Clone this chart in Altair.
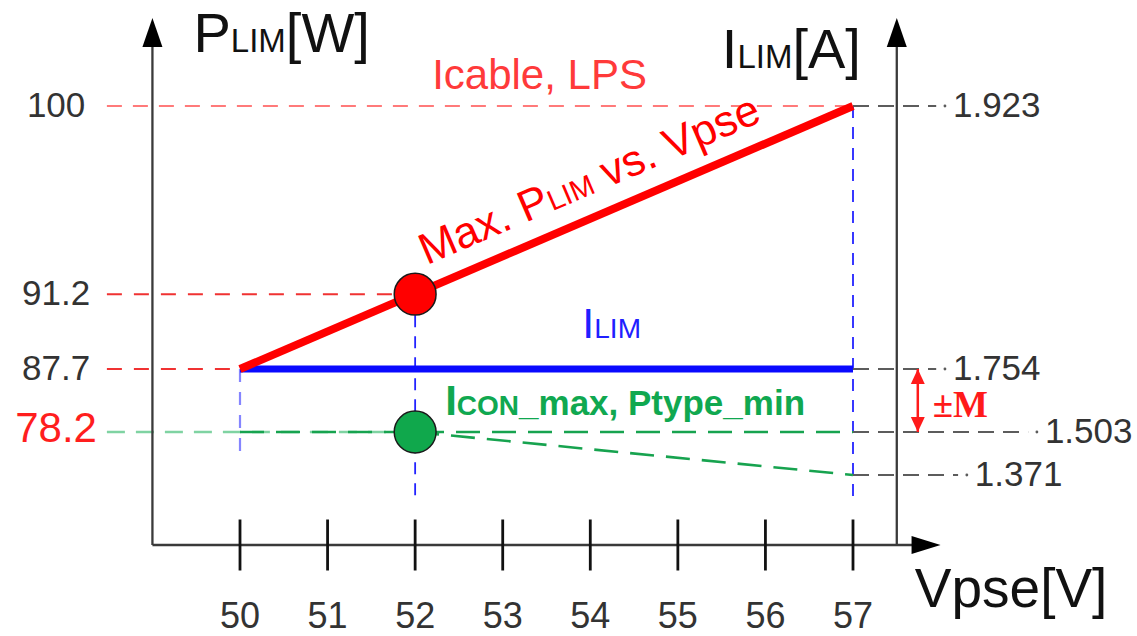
import math
import altair as alt
import pandas as pd

# ---------------- values ----------------
VPSE_TICKS = [50, 51, 52, 53, 54, 55, 56, 57]
P_LABELS = [100, 91.2, 87.7]            # left axis labels (grey)
P_LABEL_RED = 78.2                       # left axis label (red)
I_LABELS = [1.923, 1.754, 1.503, 1.371]  # right axis labels

PMAX_V = [50, 57]             # Max. PLIM vs. Vpse
PMAX_P = [87.7, 100]
ILIM_V = [50, 57]             # ILIM
ILIM_P = 87.7
ICON_V = [50, 57]             # ICON_max, Ptype_min
ICON_P = 78.2
ICON_DROP_V = [52, 57]
ICON_DROP_I = [1.503, 1.371]
P_CABLE = 100                 # Icable, LPS
OP_V = 52
OP_P_RED = 91.2
OP_P_GREEN = 78.2
M_BAND_I = [1.754, 1.503]     # ±M band

# ---------------- layout ----------------
W, H = 1137, 636
X_RANGE = [240, 853]
XS = alt.Scale(domain=[50, 57], range=X_RANGE, nice=False, zero=False)
P_BOT, P_TOP = 61.0, 104.0
P_PIX = [545, 432, 369, 106, 18]
PS = alt.Scale(domain=[P_BOT, 78.2, 87.7, 100, P_TOP], range=P_PIX, nice=False, zero=False)
I_BOT, I_TOP = 1.2, 2.0
IS = alt.Scale(domain=[I_BOT, 1.371, 1.503, 1.754, 1.923, I_TOP],
               range=[545, 475, 432, 369, 106, 18], nice=False, zero=False)
V_AXIS_L, V_AXIS_R, V_ARROW = 49.0, 57.5, 58.0
V_GUIDE0 = 48.48
V_LABEL_L = 47.9
LEADER_END = [58.05, 58.05, 59.1, 58.3]
V_M = 57.74
GUIDE_BOTTOM = {50: 74.3, 52: 67.6, 57: 67.2}
ANGLE = 360 - math.degrees(math.atan((P_PIX[2] - P_PIX[3]) / (X_RANGE[1] - X_RANGE[0])))

FONT = "Liberation Sans"
GREY = "#333333"
AX = "#3a3a3a"
RED = "#ff0000"
BLUE = "#0a0aff"
GREEN = "#17a34f"


def xq(f="v"):
    return alt.X(f"{f}:Q", scale=XS, axis=None)


def yq(f, s):
    return alt.Y(f"{f}:Q", scale=s, axis=None)


def seg(rows, scale, **mk):
    df = pd.DataFrame(rows, columns=["v", "v2", "y", "y2"])
    return alt.Chart(df).mark_rule(**mk).encode(
        x=xq("v"), x2=alt.X2("v2"), y=yq("y", scale), y2=alt.Y2("y2"))


def pts(vs, ys, scale, **mk):
    df = pd.DataFrame({"v": vs, "y": ys})
    return alt.Chart(df).mark_point(**mk).encode(x=xq("v"), y=yq("y", scale))


def txt(vs, ys, texts, scale, size, color=GREY, dx=0, dy=0, align="left",
        baseline="alphabetic", angle=None, font=FONT, weight="normal"):
    df = pd.DataFrame({"v": vs, "y": ys, "t": texts})
    kw = dict(fontSize=size, color=color, dx=dx, dy=dy, align=align,
              baseline=baseline, font=font, fontWeight=weight)
    if angle is not None:
        kw["angle"] = angle
    return alt.Chart(df).mark_text(**kw).encode(x=xq("v"), y=yq("y", scale), text="t:N")


layers = []

# --- guide lines (left, in W) ---
layers.append(seg([(V_GUIDE0, 57, P_CABLE, P_CABLE)], PS, color="#ff7a7a", strokeWidth=2, strokeDash=[15, 11]))
layers.append(seg([(V_GUIDE0, OP_V, OP_P_RED, OP_P_RED), (V_GUIDE0, 50, ILIM_P, ILIM_P)], PS,
                  color="#f03232", strokeWidth=2, strokeDash=[15, 12]))
layers.append(seg([(V_GUIDE0, OP_V, ICON_P, ICON_P)], PS, color="#7fd3a2", strokeWidth=2.5, strokeDash=[18, 11]))

# --- vertical blue guides ---
layers.append(seg([(50, 50, ILIM_P, GUIDE_BOTTOM[50])], PS, color="#8585ff", strokeWidth=2.2, strokeDash=[13, 10]))
layers.append(seg([(OP_V, OP_V, OP_P_RED, GUIDE_BOTTOM[52]), (57, 57, PMAX_P[1], GUIDE_BOTTOM[57])], PS,
                  color="#2323ff", strokeWidth=1.8, strokeDash=[12, 9]))

# --- right leaders (in A) ---
layers.append(seg([(57, e - 0.1, i, i) for e, i in zip(LEADER_END, I_LABELS)], IS,
                  color="#5c5c5c", strokeWidth=2, strokeDash=[16, 9]))
layers.append(pts(LEADER_END, I_LABELS, IS, filled=True, color="#5c5c5c", size=8, opacity=1))

# --- frame ---
layers.append(seg([(V_AXIS_L, V_AXIS_L, P_BOT, P_TOP - 1), (V_AXIS_R, V_AXIS_R, P_BOT, P_TOP - 1),
                   (V_AXIS_L, V_ARROW - 0.2, P_BOT, P_BOT)], PS, color=AX, strokeWidth=2.3))
layers.append(pts([V_AXIS_L, V_AXIS_R], [P_TOP, P_TOP], PS, filled=True, color="#000000", opacity=1,
                  size=841, shape="M0,0 L0.69,2 L-0.69,2 Z", strokeWidth=0))
layers.append(pts([V_ARROW], [P_BOT], PS, filled=True, color="#000000", opacity=1,
                  size=841, shape="M0,0 L-2,-0.62 L-2,0.62 Z", strokeWidth=0))
layers.append(alt.Chart(pd.DataFrame({"v": VPSE_TICKS, "y": [P_BOT] * len(VPSE_TICKS)}))
              .mark_tick(orient="vertical", size=51, thickness=2.8, color="#111111", opacity=1)
              .encode(x=xq("v"), y=yq("y", PS)))

# --- data lines ---
layers.append(seg([(ICON_V[0], ICON_V[1], ICON_P, ICON_P)], PS, color=GREEN, strokeWidth=2.6, strokeDash=[24, 12]))
layers.append(seg([(ICON_DROP_V[0], ICON_DROP_V[1], ICON_DROP_I[0], ICON_DROP_I[1])], IS,
                  color=GREEN, strokeWidth=2.6, strokeDash=[24, 12]))
layers.append(seg([(ILIM_V[0], ILIM_V[1], ILIM_P, ILIM_P)], PS, color=BLUE, strokeWidth=7))
layers.append(seg([(PMAX_V[0], PMAX_V[1], PMAX_P[0], PMAX_P[1])], PS, color=RED, strokeWidth=8))

# --- operating points ---
layers.append(alt.Chart(pd.DataFrame({"v": [OP_V], "y": [OP_P_RED]})).mark_circle(
    size=1750, color=RED, stroke="#1a1a1a", strokeWidth=1.5, opacity=1).encode(x=xq("v"), y=yq("y", PS)))
layers.append(alt.Chart(pd.DataFrame({"v": [OP_V], "y": [OP_P_GREEN]})).mark_circle(
    size=1750, color="#10a84c", stroke="#1a1a1a", strokeWidth=1.5, opacity=1).encode(x=xq("v"), y=yq("y", PS)))

# --- ±M double arrow ---
layers.append(seg([(V_M, V_M, M_BAND_I[0], M_BAND_I[1])], IS, color="#ff1a1a", strokeWidth=2.5))
layers.append(pts([V_M], [M_BAND_I[0]], IS, filled=True, color="#ff1a1a", opacity=1, size=225,
                  shape="M0,0 L0.93,2 L-0.93,2 Z", strokeWidth=0))
layers.append(pts([V_M], [M_BAND_I[1]], IS, filled=True, color="#ff1a1a", opacity=1, size=225,
                  shape="M0,0 L0.93,-2 L-0.93,-2 Z", strokeWidth=0))
layers.append(txt([V_M], [M_BAND_I[0]], ["±M"], IS, 37, color="#ff1a1a", dx=15, dy=37,
                  baseline="middle", font="Liberation Serif", weight="bold"))

# --- axis labels ---
layers.append(txt(VPSE_TICKS, [P_BOT] * len(VPSE_TICKS), [str(v) for v in VPSE_TICKS], PS, 36,
                  dy=72, align="center", baseline="middle"))
layers.append(txt([V_LABEL_L] * len(P_LABELS), P_LABELS, [f"{p:g}" for p in P_LABELS], PS, 35,
                  align="center", baseline="middle"))
layers.append(txt([V_LABEL_L], [P_LABEL_RED], [f"{P_LABEL_RED:g}"], PS, 42, color="#ff1e1e",
                  dy=-3, align="center", baseline="middle"))
layers.append(txt(LEADER_END, I_LABELS, [f"{i:.3f}" for i in I_LABELS], IS, 35, dx=8, baseline="middle"))

# --- axis titles ---
layers.append(txt([V_AXIS_L], [P_TOP], ["P"], PS, 56, color="#111111", dx=41, dy=34))
layers.append(txt([V_AXIS_L], [P_TOP], ["LIM"], PS, 33, color="#111111", dx=78.4, dy=34))
layers.append(txt([V_AXIS_L], [P_TOP], ["[W]"], PS, 56, color="#111111", dx=133.4, dy=34))
layers.append(txt([V_AXIS_R], [P_TOP], ["I"], PS, 56, color="#111111", dx=-175, dy=50))
layers.append(txt([V_AXIS_R], [P_TOP], ["LIM"], PS, 33, color="#111111", dx=-159.4, dy=50))
layers.append(txt([V_AXIS_R], [P_TOP], ["[A]"], PS, 56, color="#111111", dx=-104.4, dy=50))
layers.append(txt([V_AXIS_R], [P_BOT], ["Vpse[V]"], PS, 55, color="#111111", dx=18, dy=62))

# --- series labels ---
layers.append(txt([OP_V], [P_CABLE], ["Icable, LPS"], PS, 42, color="#ff3a3a", dx=17, dy=-17))
for t, s, dx in [("Max.", 44, 22), ("P", 44, 129.6), ("LIM", 29, 158.9), ("vs. Vpse", 44, 219.4)]:
    layers.append(txt([OP_V], [OP_P_RED], [t], PS, s, color=RED, dx=dx, dy=-22, angle=ANGLE))
layers.append(txt([54], [ILIM_P], ["I"], PS, 43, color="#2020ff", dx=-8, dy=-31))
layers.append(txt([54], [ILIM_P], ["LIM"], PS, 28, color="#2020ff", dx=4, dy=-31))
for t, s, dx in [("I", 42, 30), ("CON", 28, 41.7), ("_max, Ptype_min", 35, 103.9)]:
    layers.append(txt([OP_V], [OP_P_GREEN], [t], PS, s, color="#10a850", dx=dx, dy=-17, weight="bold"))

chart = (
    alt.layer(*layers)
    .resolve_scale(y="independent")
    .properties(width=W, height=H, autosize=alt.AutoSizeParams(type="none"), padding=0, background="white")
    .configure_view(stroke=None)
)

chart.save("out.html", embed_options={"renderer": "svg", "actions": False})
